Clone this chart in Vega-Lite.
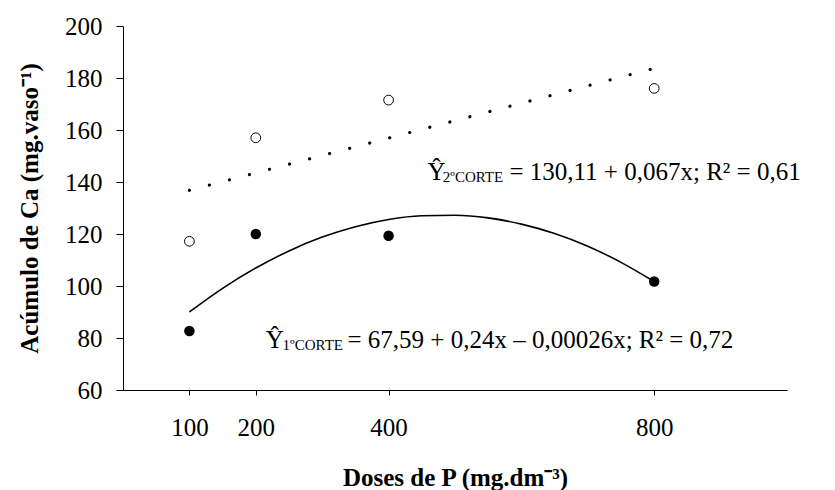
{
  "$schema": "https://vega.github.io/schema/vega-lite/v6.json",
  "width": 664,
  "height": 364,
  "autosize": "none",
  "padding": {"left": 123, "top": 26, "right": 48, "bottom": 100},
  "background": "white",
  "config": {
    "view": {"stroke": null},
    "font": "Liberation Serif",
    "axis": {"grid": false, "domainColor": "black", "tickColor": "black", "labelColor": "black", "titleColor": "black", "labelFont": "Liberation Serif", "titleFont": "Liberation Serif", "labelFontSize": 25, "titleFontSize": 25, "titleFontWeight": "bold", "domainWidth": 1, "tickWidth": 1}
  },
  "datasets": {
    "pts": [
      {"dose": 100, "ca": 82.7, "corte": "1º corte"},
      {"dose": 200, "ca": 120.0, "corte": "1º corte"},
      {"dose": 400, "ca": 119.3, "corte": "1º corte"},
      {"dose": 800, "ca": 101.7, "corte": "1º corte"},
      {"dose": 100, "ca": 117.2, "corte": "2º corte"},
      {"dose": 200, "ca": 157.0, "corte": "2º corte"},
      {"dose": 400, "ca": 171.5, "corte": "2º corte"},
      {"dose": 800, "ca": 176.0, "corte": "2º corte"}
    ],
    "curve1": [
      {"dose": 100, "ca": 90.0}, {"dose": 150, "ca": 99.1}, {"dose": 200, "ca": 106.9},
      {"dose": 250, "ca": 113.5}, {"dose": 300, "ca": 118.8}, {"dose": 350, "ca": 122.8},
      {"dose": 400, "ca": 125.6}, {"dose": 450, "ca": 127.0}, {"dose": 500, "ca": 127.2},
      {"dose": 550, "ca": 126.2}, {"dose": 600, "ca": 123.8}, {"dose": 650, "ca": 120.2},
      {"dose": 700, "ca": 115.3}, {"dose": 750, "ca": 109.1}, {"dose": 800, "ca": 101.7}
    ],
    "line2": [
      {"dose": 100, "ca": 136.8}, {"dose": 800, "ca": 183.7}
    ],
    "bigtext": [
      {"dose": 458.5, "ca": 140.8, "label": "Ŷ"},
      {"dose": 582, "ca": 140.8, "label": "= 130,11 + 0,067x; R² = 0,61"},
      {"dose": 215, "ca": 76.0, "label": "Ŷ"},
      {"dose": 338, "ca": 76.0, "label": "= 67,59 + 0,24x – 0,00026x; R² = 0,72"}
    ],
    "smalltext": [
      {"dose": 481.6, "ca": 140.1, "label": "2ºCORTE"},
      {"dose": 240.3, "ca": 75.3, "label": "1ºCORTE"}
    ]
  },
  "layer": [
    {
      "data": {"name": "line2"},
      "mark": {"type": "line", "color": "black", "strokeWidth": 3.2, "strokeCap": "round", "strokeDash": [0.01, 20.7]},
      "encoding": {
        "x": {"field": "dose", "type": "quantitative", "scale": {"domain": [0, 1000], "nice": false, "zero": false},
              "axis": {"values": [100, 200, 400, 800], "title": "Doses de P (mg.dm⁻³)", "tickSize": 5, "labelPadding": 20, "titleY": 95, "titleBaseline": "alphabetic"}},
        "y": {"field": "ca", "type": "quantitative", "scale": {"domain": [60, 200], "nice": false, "zero": false},
              "axis": {"values": [60, 80, 100, 120, 140, 160, 180, 200], "title": "Acúmulo de Ca (mg.vaso⁻¹)", "tickSize": 7, "labelPadding": 14, "titleX": -86, "titleBaseline": "alphabetic"}}
      }
    },
    {
      "data": {"name": "curve1"},
      "mark": {"type": "line", "color": "black", "strokeWidth": 1.6, "interpolate": "monotone"},
      "encoding": {
        "x": {"field": "dose", "type": "quantitative"},
        "y": {"field": "ca", "type": "quantitative"}
      }
    },
    {
      "data": {"name": "pts"},
      "transform": [{"filter": "datum.corte === '1º corte'"}],
      "mark": {"type": "point", "shape": "circle", "filled": true, "color": "black", "size": 110, "opacity": 1},
      "encoding": {
        "x": {"field": "dose", "type": "quantitative"},
        "y": {"field": "ca", "type": "quantitative"}
      }
    },
    {
      "data": {"name": "pts"},
      "transform": [{"filter": "datum.corte === '2º corte'"}],
      "mark": {"type": "point", "shape": "circle", "filled": false, "stroke": "black", "fill": "white", "fillOpacity": 1, "strokeWidth": 1, "size": 95, "opacity": 1},
      "encoding": {
        "x": {"field": "dose", "type": "quantitative"},
        "y": {"field": "ca", "type": "quantitative"}
      }
    },
    {
      "data": {"name": "bigtext"},
      "mark": {"type": "text", "align": "left", "baseline": "alphabetic", "font": "Liberation Serif", "fontSize": 25, "color": "black"},
      "encoding": {
        "x": {"field": "dose", "type": "quantitative"},
        "y": {"field": "ca", "type": "quantitative"},
        "text": {"field": "label"}
      }
    },
    {
      "data": {"name": "smalltext"},
      "mark": {"type": "text", "align": "left", "baseline": "alphabetic", "font": "Liberation Serif", "fontSize": 15, "color": "black"},
      "encoding": {
        "x": {"field": "dose", "type": "quantitative"},
        "y": {"field": "ca", "type": "quantitative"},
        "text": {"field": "label"}
      }
    }
  ]
}
